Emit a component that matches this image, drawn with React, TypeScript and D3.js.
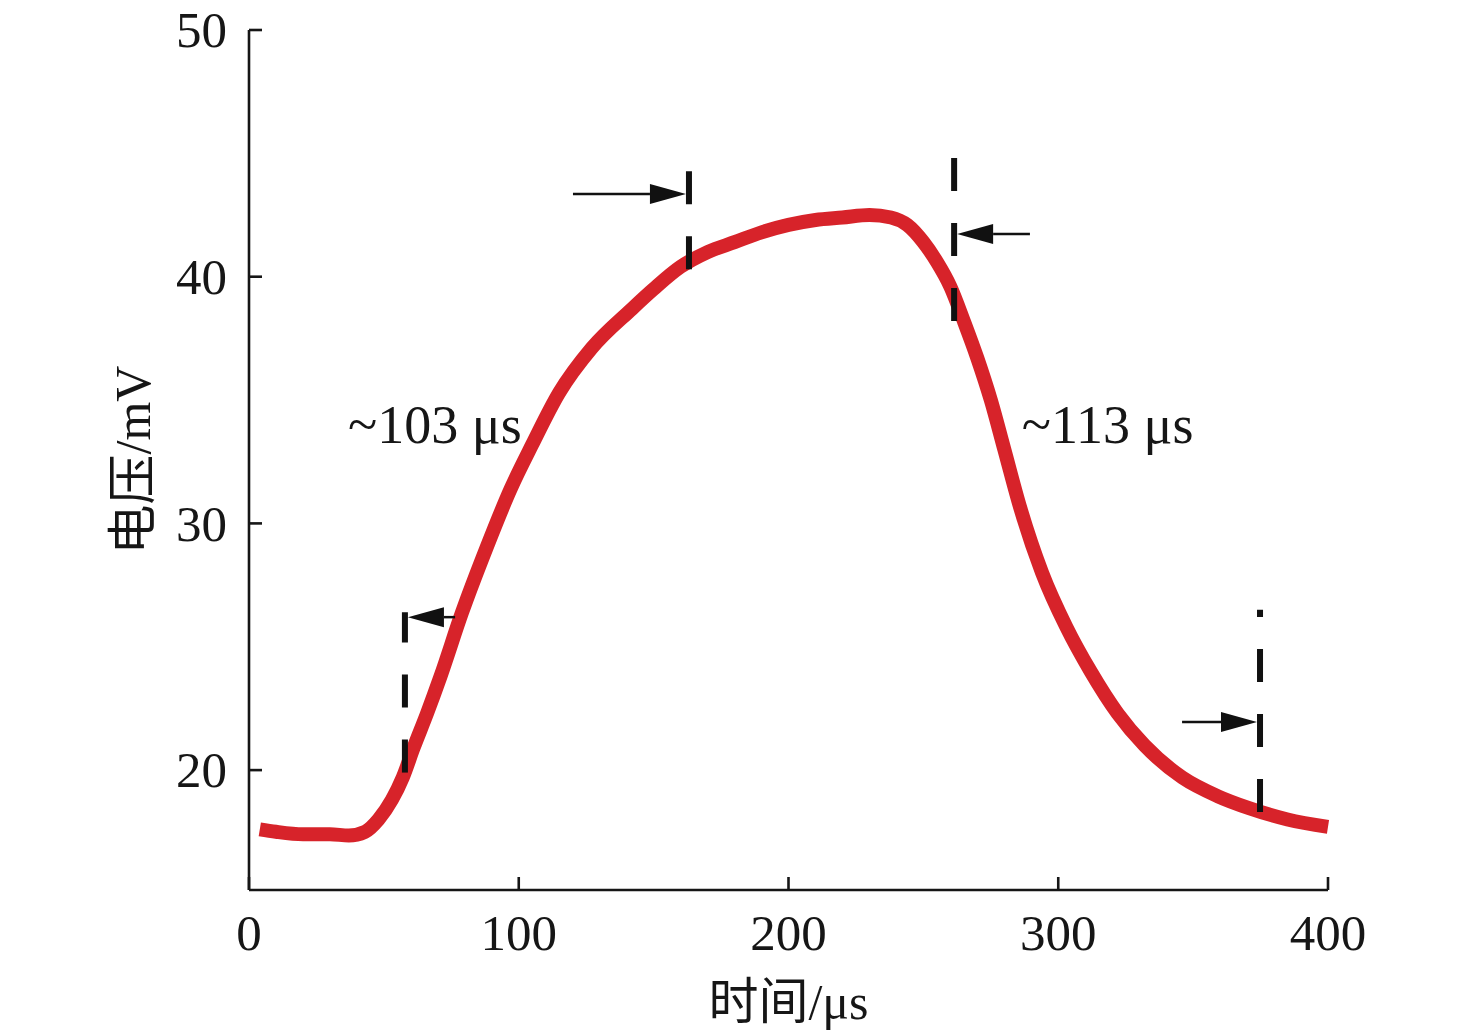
import React from 'react';
import * as d3 from 'd3';

// trace: time in µs, voltage in mV
const timeUs = [4, 10, 20, 30, 37, 43, 48, 53, 57, 61, 66, 71, 79, 88, 97, 105, 115, 127, 142, 150, 160, 170, 180, 190, 200, 210, 220, 230, 238, 244, 250, 255, 260, 265, 270, 275, 280, 286, 294, 303, 312, 322, 332, 346, 359, 371, 385, 400];
const voltageMv = [17.6, 17.5, 17.4, 17.4, 17.35, 17.5, 18.0, 18.8, 19.7, 20.9, 22.3, 23.8, 26.4, 29.0, 31.4, 33.2, 35.3, 37.1, 38.7, 39.5, 40.4, 41.0, 41.4, 41.8, 42.1, 42.3, 42.4, 42.5, 42.4, 42.1, 41.4, 40.6, 39.6, 38.2, 36.7, 35.0, 33.0, 30.6, 28.0, 25.8, 24.0, 22.3, 21.0, 19.7, 18.95, 18.45, 18.0, 17.7];

const xTicks = [0, 100, 200, 300, 400];
const yTicks = [20, 30, 40, 50];

// dashed markers: x position, bottom and top voltage
const markerX = [57.8, 163.1, 261.4, 374.8];
const markerBottom = [19.9, 40.3, 38.2, 18.3];
const markerTop = [26.4, 44.4, 44.85, 26.5];

// arrows: voltage level and tail time, pointing at the matching marker
const arrowY = [26.2, 43.35, 41.73, 21.95];
const arrowTail = [76.4, 120.1, 289.5, 345.9];

const labels = ['~103 μs', '~113 μs'];
const labelX = [36.7, 286.5];
const labelY = [33.26, 33.26];

const width = 1476;
const height = 1035;

export default function App() {
  const x = d3.scaleLinear().domain([0, 400]).range([249, 1328]);
  const y = d3.scaleLinear().domain([15.14, 50]).range([890, 30]);

  const points = timeUs.map((t, i) => [t, voltageMv[i]] as [number, number]);
  const line = d3.line<[number, number]>()
    .x(d => x(d[0]))
    .y(d => y(d[1]))
    .curve(d3.curveMonotoneX);

  const serif = "'Liberation Serif', 'Times New Roman', 'Noto Sans CJK SC', serif";
  const ink = '#161616';

  return (
    <svg width={width} height={height} style={{ position: 'absolute', left: 0, top: 0, background: '#fff' }}>
      {/* axes */}
      <line x1={x(0)} x2={x(0)} y1={y(50)} y2={y(15.14)} stroke={ink} strokeWidth={2.6} />
      <line x1={x(0)} x2={x(400)} y1={y(15.14)} y2={y(15.14)} stroke={ink} strokeWidth={2.6} />
      {yTicks.map(t => (
        <g key={'y' + t}>
          <line x1={x(0)} x2={x(0) + 13} y1={y(t)} y2={y(t)} stroke={ink} strokeWidth={2.6} />
          <text x={x(0) - 22} y={y(t)} dy="0.34em" textAnchor="end" fontFamily={serif} fontSize={51} fill={ink}>{t}</text>
        </g>
      ))}
      {xTicks.map(t => (
        <g key={'x' + t}>
          <line x1={x(t)} x2={x(t)} y1={y(15.14)} y2={y(15.14) - 13} stroke={ink} strokeWidth={2.6} />
          <text x={x(t)} y={950} textAnchor="middle" fontFamily={serif} fontSize={51} fill={ink}>{t}</text>
        </g>
      ))}

      {/* axis titles */}
      <text x={(x(0) + x(400)) / 2} y={1019} textAnchor="middle" fontFamily={serif} fontSize={50} fill={ink}>时间/μs</text>
      <text transform={`translate(150,${(y(50) + y(15.14)) / 2}) rotate(-90)`} textAnchor="middle" fontFamily={serif} fontSize={50} fill={ink}>电压/mV</text>

      {/* trace */}
      <path d={line(points) ?? ''} fill="none" stroke="#d7232a" strokeWidth={14} strokeLinejoin="round" />

      {/* dashed markers */}
      {markerX.map((m, i) => (
        <line key={'m' + i} x1={x(m)} x2={x(m)} y1={y(markerBottom[i])} y2={y(markerTop[i])}
          stroke="#111" strokeWidth={6} strokeDasharray="33 32" />
      ))}

      {/* arrows */}
      {arrowY.map((a, i) => {
        const tipX = x(markerX[i]);
        const tailX = x(arrowTail[i]);
        const dir = tailX > tipX ? 1 : -1;
        const tip = tipX + dir * 3;
        const yy = y(a);
        const headLen = 36;
        return (
          <g key={'a' + i}>
            <line x1={tailX} x2={tip + dir * headLen} y1={yy} y2={yy} stroke="#111" strokeWidth={2.5} />
            <polygon points={`${tip},${yy} ${tip + dir * headLen},${yy - 10} ${tip + dir * headLen},${yy + 10}`} fill="#111" />
          </g>
        );
      })}

      {/* duration labels */}
      {labels.map((l, i) => (
        <text key={'l' + i} x={x(labelX[i])} y={y(labelY[i])} fontFamily={serif} fontSize={54} fill={ink}>{l}</text>
      ))}
    </svg>
  );
}
